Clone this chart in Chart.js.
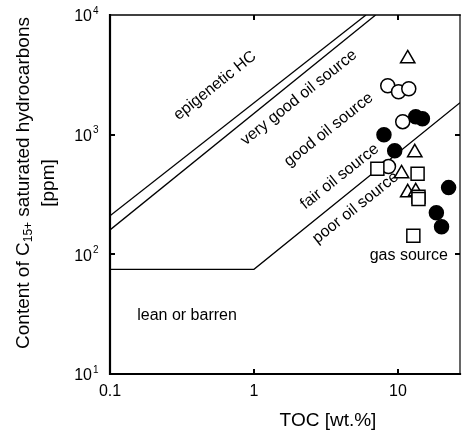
<!DOCTYPE html>
<html>
<head>
<meta charset="utf-8">
<script src="https://cdn.jsdelivr.net/npm/chart.js@4"></script>
<style>
  body { margin: 0; background: #fff; }
  #wrap { width: 462px; height: 434px; }
</style>
</head>
<body>
<div id="wrap"><canvas id="toc" width="462" height="434"></canvas></div>
<script>
// data (TOC wt.%, C15+ saturated HC ppm)
const openCircles   = [[8.5, 2565], [10.1, 2285], [11.9, 2420], [10.8, 1284], [8.6, 541]];
const filledCircles = [[13.3, 1413], [14.8, 1360], [8.0, 1000], [9.5, 735], [22.5, 361], [18.5, 223], [20.1, 170]];
const triangles     = [[11.7, 4315], [13.1, 708], [10.6, 472], [11.7, 328], [13.3, 334]];
const squares       = [[7.2, 520], [13.7, 472], [13.9, 303], [13.9, 290], [12.8, 143]];

// boundary lines
const lineEpigenetic = [[0.1, 210], [6.0, 10000]];
const lineVeryGood   = [[0.1, 160], [7.0, 10000]];
const linePoor       = [[0.1, 75], [1, 75], [27, 1850]];

const xTicks = [0.1, 1, 10];
const yTicks = [10, 100, 1000, 10000];
const yExp   = ["1", "2", "3", "4"];

// zone labels: text, TOC, ppm, rotated?
const zoneLabels = [
  ["epigenetic HC", 0.537, 2565, true],
  ["very good oil source", 2.05, 2037, true],
  ["good oil source", 3.31, 1101, true],
  ["fair oil source", 3.94, 446, true],
  ["poor oil source", 5.09, 245, true],
  ["gas source", 11.9, 97.5, false],
  ["lean or barren", 0.343, 30.7, false]
];

const pts = a => a.map(p => ({ x: p[0], y: p[1] }));

function lineSet(d) {
  return {
    type: "line", data: pts(d), borderColor: "#000", borderWidth: 1.3,
    pointRadius: 0, fill: false, tension: 0, order: 10
  };
}
function markSet(d, style, fill, r) {
  return {
    type: "scatter", data: pts(d), pointStyle: style, pointRadius: r, pointHoverRadius: r,
    backgroundColor: fill, borderColor: "#000", borderWidth: 1.5, order: 1
  };
}

const font = "'Liberation Sans', Arial, sans-serif";

const decor = {
  id: "decor",
  beforeDatasetsDraw(chart) {
    const { ctx, scales: { x, y } } = chart;
    ctx.save();
    ctx.fillStyle = "#000";
    ctx.font = "16px " + font;
    ctx.textAlign = "center";
    ctx.textBaseline = "middle";
    zoneLabels.forEach(l => {
      ctx.save();
      ctx.translate(x.getPixelForValue(l[1]), y.getPixelForValue(l[2]));
      if (l[3]) ctx.rotate(-38.5 * Math.PI / 180);
      ctx.fillText(l[0], 0, 0);
      ctx.restore();
    });
    ctx.restore();
  },
  afterDraw(chart) {
    const { ctx, chartArea: a, scales: { x, y } } = chart;
    ctx.save();
    ctx.strokeStyle = "#000";
    ctx.lineCap = "square";
    // frame
    ctx.lineWidth = 1.5;
    ctx.beginPath(); ctx.moveTo(a.left, a.top); ctx.lineTo(a.right, a.top); ctx.stroke();
    ctx.lineWidth = 1.2;
    ctx.beginPath(); ctx.moveTo(a.right, a.top); ctx.lineTo(a.right, a.bottom); ctx.stroke();
    ctx.lineWidth = 2.2;
    ctx.beginPath(); ctx.moveTo(a.left, a.top); ctx.lineTo(a.left, a.bottom); ctx.lineTo(a.right, a.bottom); ctx.stroke();
    // inward ticks
    ctx.lineWidth = 2;
    ctx.lineCap = "butt";
    xTicks.slice(1).forEach(v => {
      const px = Math.round(x.getPixelForValue(v));
      ctx.beginPath(); ctx.moveTo(px, a.bottom); ctx.lineTo(px, a.bottom - 5); ctx.stroke();
      ctx.beginPath(); ctx.moveTo(px, a.top); ctx.lineTo(px, a.top + 5); ctx.stroke();
    });
    yTicks.slice(1, -1).forEach(v => {
      const py = Math.round(y.getPixelForValue(v));
      ctx.beginPath(); ctx.moveTo(a.left, py); ctx.lineTo(a.left + 5, py); ctx.stroke();
      ctx.beginPath(); ctx.moveTo(a.right, py); ctx.lineTo(a.right - 5, py); ctx.stroke();
    });
    // tick labels
    ctx.fillStyle = "#000";
    ctx.font = "16px " + font;
    ctx.textAlign = "center";
    ctx.textBaseline = "middle";
    xTicks.forEach(v => ctx.fillText(String(v), x.getPixelForValue(v), a.bottom + 18));
    yTicks.forEach((v, i) => {
      const py = y.getPixelForValue(v);
      ctx.font = "16px " + font;
      ctx.textAlign = "right";
      ctx.textBaseline = "middle";
      ctx.fillText("10", a.left - 18, py + 2);
      ctx.font = "10px " + font;
      ctx.textAlign = "left";
      ctx.fillText(yExp[i], a.left - 17, py - 4);
    });
    // x title
    ctx.font = "19px " + font;
    ctx.textAlign = "center";
    ctx.textBaseline = "middle";
    ctx.fillText("TOC [wt.%]", 328, 421);
    // y title with subscript
    ctx.save();
    ctx.translate(24, 183);
    ctx.rotate(-Math.PI / 2);
    const p1 = "Content of C", sub = "15+", p2 = " saturated hydrocarbons";
    ctx.font = "19px " + font;
    const w1 = ctx.measureText(p1).width, w3 = ctx.measureText(p2).width;
    ctx.font = "12px " + font;
    const w2 = ctx.measureText(sub).width;
    let sx = -(w1 + w2 + w3) / 2;
    ctx.textAlign = "left";
    ctx.font = "19px " + font;
    ctx.fillText(p1, sx, 0);
    ctx.font = "12px " + font;
    ctx.fillText(sub, sx + w1, 5);
    ctx.font = "19px " + font;
    ctx.fillText(p2, sx + w1 + w2, 0);
    ctx.textAlign = "center";
    ctx.fillText("[ppm]", 0, 25);
    ctx.restore();
    ctx.restore();
  }
};

new Chart(document.getElementById("toc"), {
  type: "scatter",
  data: {
    datasets: [
      lineSet(lineEpigenetic),
      lineSet(lineVeryGood),
      lineSet(linePoor),
      markSet(squares, "rect", "#fff", 9.2),
      markSet(triangles, "triangle", "#fff", 8.3),
      markSet(openCircles, "circle", "#fff", 7),
      markSet(filledCircles, "circle", "#000", 7)
    ]
  },
  options: {
    responsive: false,
    animation: false,
    events: [],
    layout: { autoPadding: false, padding: { left: 110, top: 15, right: 2, bottom: 60 } },
    plugins: { legend: { display: false }, tooltip: { enabled: false } },
    scales: {
      x: { type: "logarithmic", min: 0.1, max: 27, display: false },
      y: { type: "logarithmic", min: 10, max: 10000, display: false }
    }
  },
  plugins: [decor]
});
</script>
</body>
</html>
